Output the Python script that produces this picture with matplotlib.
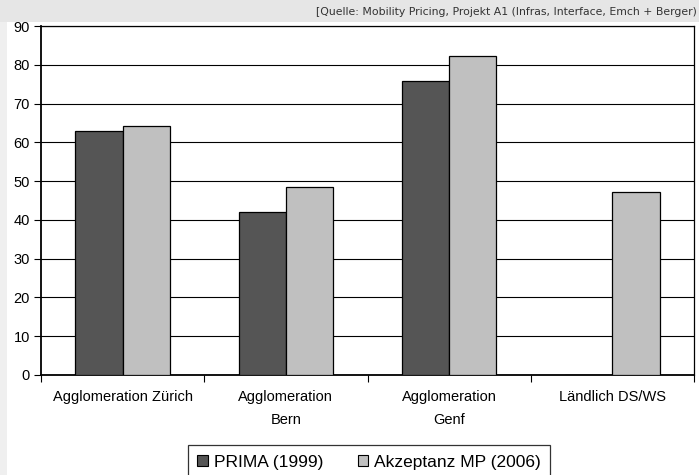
import matplotlib
matplotlib.use("Agg")
import matplotlib.pyplot as plt
from matplotlib.patches import Patch, Rectangle
import numpy as np

categories = ["Agglomeration Zürich", "Agglomeration\nBern", "Agglomeration\nGenf", "Ländlich DS/WS"]
prima_1999 = [62.8, 42.0, 75.8, np.nan]
akzeptanz_2006 = [64.2, 48.4, 82.2, 47.3]
series_names = ["PRIMA (1999)", "Akzeptanz MP (2006)"]
yticks = list(range(0, 100, 10))
source = "[Quelle: Mobility Pricing, Projekt A1 (Infras, Interface, Emch + Berger)"

plt.rcParams['font.family'] = ['Liberation Sans', 'DejaVu Sans']

W, H = 699, 475
fig = plt.figure(figsize=(W/100, H/100), dpi=100, facecolor='white')

# background decorations
fig.patches.append(Rectangle((0, 1 - 22/H), 1, 22/H, transform=fig.transFigure,
                             facecolor='#e6e6e6', edgecolor='none', zorder=0))
fig.patches.append(Rectangle((0, 0), 7/W, 1 - 22/H, transform=fig.transFigure,
                             facecolor='#efefef', edgecolor='none', zorder=0))

ax = fig.add_axes([41/W, (H-375)/H, (694-41)/W, (375-26)/H])
x = np.arange(len(categories))
bw = 0.29
c1, c2 = '#555555', '#c0c0c0'
ax.bar(x - bw/2, np.nan_to_num(prima_1999), bw, color=c1, edgecolor='black', linewidth=0.9, zorder=3)
ax.bar(x + bw/2, akzeptanz_2006, bw, color=c2, edgecolor='black', linewidth=0.9, zorder=3)

ax.set_xlim(-0.5, len(categories) - 0.5)
ax.set_ylim(0, 90)
ax.set_yticks(yticks)
ax.set_yticklabels([str(v) for v in yticks], fontsize=10.5)
ax.yaxis.grid(True, color='black', linewidth=0.8, zorder=0)
ax.set_axisbelow(True)
ax.tick_params(axis='y', direction='out', length=5, width=0.8, pad=3)

ax.set_xticks(x)
ax.set_xticklabels(categories, fontsize=10.5, linespacing=1.75)
ax.tick_params(axis='x', which='major', length=0, pad=11)
ax.set_xticks(np.arange(-0.5, len(categories), 1), minor=True)
ax.tick_params(axis='x', which='minor', direction='out', length=5, width=0.8)

for s in ax.spines.values():
    s.set_color('black')
    s.set_linewidth(0.9)
ax.spines['left'].set_linewidth(1.3)
ax.spines['bottom'].set_linewidth(1.3)

fig.text(697/W, 1 - 12/H, source, ha='right', va='center', fontsize=7.8,
         color='#333333', family=['DejaVu Sans'])

handles = [Patch(facecolor=c1, edgecolor='black', linewidth=0.8),
           Patch(facecolor=c2, edgecolor='black', linewidth=0.8)]
leg = fig.legend(handles, series_names, loc='upper center', ncol=2,
                 bbox_to_anchor=(369/W, (H-445)/H), fontsize=12.5,
                 frameon=True, fancybox=False, edgecolor='black',
                 handlelength=0.6, handleheight=0.6, handletextpad=0.35,
                 columnspacing=2.0, borderpad=0.55, borderaxespad=0)
leg.get_frame().set_linewidth(0.9)

fig.savefig("out.png", dpi=100, facecolor='white')
